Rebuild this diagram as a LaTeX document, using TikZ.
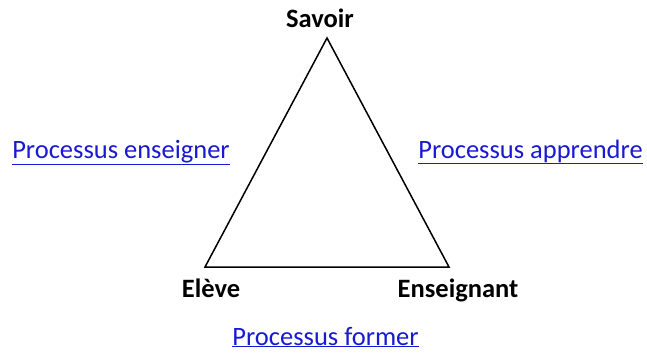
\documentclass[tikz,border=0pt]{standalone}
\usepackage{fontspec}
\setmainfont{Carlito}
\definecolor{linkblue}{RGB}{25,25,210}
\begin{document}
\begin{tikzpicture}[x=1pt,y=-1pt,
  vertex/.style={font=\fontsize{26.5}{30}\selectfont\bfseries, inner sep=0pt, anchor=base},
  proc/.style={font=\fontsize{26.5}{30}\selectfont, text=linkblue, inner sep=0pt, anchor=base},
  edge/.style={draw=black, line width=1.5pt, line join=miter}]
\useasboundingbox (0,0) rectangle (647,360);
\coordinate (A) at (327,38);
\coordinate (B) at (205,267);
\coordinate (C) at (449,267);
\draw[edge] (A) -- (B) -- (C) -- cycle;
\node[vertex] (savoir) at (320,27) {Savoir};
\node[vertex] (eleve) at (211,297) {Elève};
\node[vertex] (ens) at (458,297) {Enseignant};
\node[proc] (pe) at (121,158) {\underline{Processus enseigner}};
\node[proc] (pa) at (530.5,158) {\underline{Processus apprendre}};
\node[proc] (pf) at (325.5,345) {\underline{Processus former}};
\end{tikzpicture}
\end{document}
